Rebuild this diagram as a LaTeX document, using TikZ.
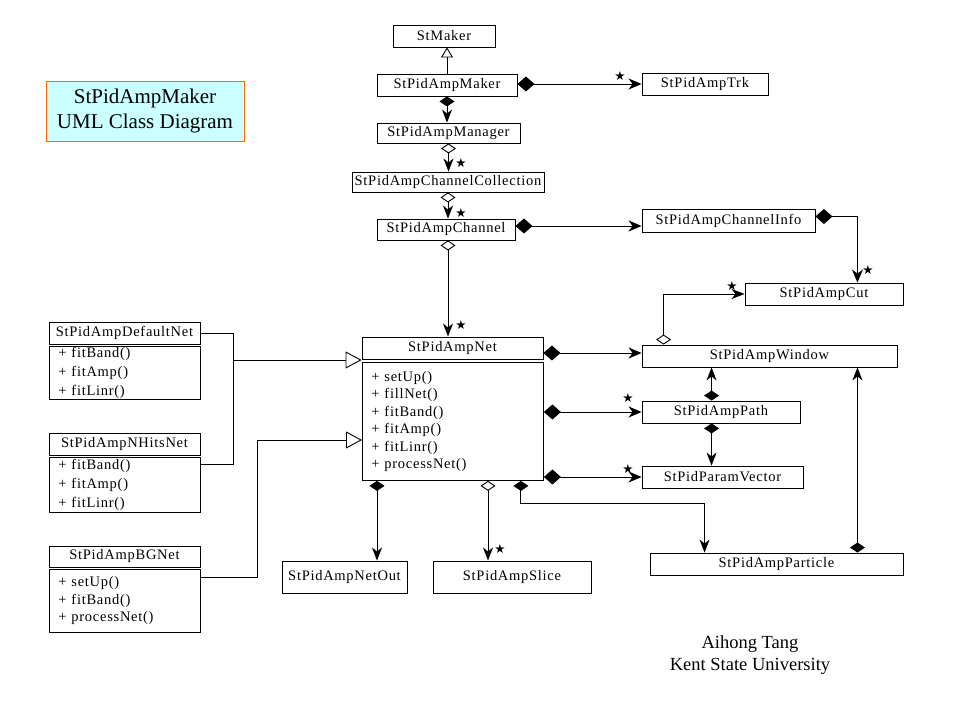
\documentclass[tikz,border=0pt]{standalone}
\usepackage{fontspec}
\setmainfont{Liberation Serif}
\newfontfamily\classfont[LetterSpace=5]{Liberation Serif}
\newfontfamily\starfont{DejaVu Sans}
\usetikzlibrary{arrows.meta,calc}

\definecolor{titlefill}{HTML}{CCFFFF}
\definecolor{titleedge}{HTML}{FF6600}

\tikzset{
  cls/.style={draw, line width=0.9pt, inner sep=0pt, fill=white,
    font=\classfont\fontsize{14.5}{17}\selectfont},
  ops/.style={cls, anchor=north west, align=left, inner xsep=9pt, inner ysep=0pt},
  mult/.style={inner sep=0pt, font=\starfont\fontsize{12.5}{12.5}\selectfont},
  conn/.style={line width=0.9pt},
  compH/.style={conn, arrows={Diamond[length=17pt,width=15pt]-Stealth[length=13pt,width=11pt,inset=4pt]}},
  compV/.style={conn, arrows={Diamond[length=10pt,width=15pt]-Stealth[length=13pt,width=10pt,inset=4pt]}},
  aggV/.style={conn, arrows={Diamond[length=10pt,width=15pt,fill=white]-Stealth[length=13pt,width=10pt,inset=4pt]}},
  gensmall/.style={conn, arrows={-Triangle[length=10pt,width=12pt,fill=white]}},
  genbig/.style={conn, arrows={-Triangle[length=16pt,width=17pt,fill=white]}},
}

\begin{document}
\begin{tikzpicture}[x=1pt,y=-1pt]
\fill[white] (0,0) rectangle (959,719);
\useasboundingbox (0,0) rectangle (959,719);

% title
\node[draw=titleedge, fill=titlefill, line width=0.9pt, minimum width=198pt,
  minimum height=60pt, align=center, font=\fontsize{21}{25}\selectfont]
  (title) at (145,111) {StPidAmpMaker\\UML Class Diagram};

% central column
\node[cls, minimum width=102pt, minimum height=22pt] (stmaker) at (444,36) {StMaker};
\node[cls, minimum width=140pt, minimum height=22pt] (maker) at (447,85) {StPidAmpMaker};
\node[cls, minimum width=143pt, minimum height=20pt] (manager) at (448.5,133) {StPidAmpManager};
\node[cls, minimum width=192pt, minimum height=20pt] (coll) at (448,182) {StPidAmpChannelCollection};
\node[cls, minimum width=138pt, minimum height=21pt] (channel) at (446,229.5) {StPidAmpChannel};

% right column
\node[cls, minimum width=126pt, minimum height=22pt] (trk) at (705,84) {StPidAmpTrk};
\node[cls, minimum width=173pt, minimum height=23pt] (info) at (728.5,220.5) {StPidAmpChannelInfo};
\node[cls, minimum width=158pt, minimum height=22pt] (cut) at (824,294) {StPidAmpCut};
\node[cls, minimum width=255pt, minimum height=22pt] (window) at (769.5,356) {StPidAmpWindow};
\node[cls, minimum width=158pt, minimum height=22pt] (path) at (721,412) {StPidAmpPath};
\node[cls, minimum width=161pt, minimum height=22pt] (pv) at (722.5,477) {StPidParamVector};
\node[cls, minimum width=253pt, minimum height=22pt] (particle) at (776.5,564) {StPidAmpParticle};

% bottom row
\node[cls, minimum width=125pt, minimum height=32pt] (netout) at (344.5,577) {StPidAmpNetOut};
\node[cls, minimum width=158pt, minimum height=32pt] (slice) at (512,577) {StPidAmpSlice};

% StPidAmpNet
\node[cls, minimum width=181pt, minimum height=22pt] (net) at (452.5,348) {StPidAmpNet};
\node[ops, text width=163pt, minimum height=118pt, font=\classfont\fontsize{14.5}{17.4}\selectfont]
  (netops) at (362,362) {+ setUp()\\+ fillNet()\\+ fitBand()\\+ fitAmp()\\+ fitLinr()\\+ processNet()};

% derived nets
\node[cls, minimum width=151pt, minimum height=22pt] (defnet) at (124.5,333) {StPidAmpDefaultNet};
\node[ops, text width=133pt, minimum height=53pt, font=\classfont\fontsize{14.5}{19}\selectfont]
  (defops) at (49,346) {+ fitBand()\\+ fitAmp()\\+ fitLinr()};
\node[cls, minimum width=151pt, minimum height=22pt] (nhits) at (124.5,444) {StPidAmpNHitsNet};
\node[ops, text width=133pt, minimum height=55pt, font=\classfont\fontsize{14.5}{19}\selectfont]
  (nhitsops) at (49,457) {+ fitBand()\\+ fitAmp()\\+ fitLinr()};
\node[cls, minimum width=151pt, minimum height=21pt] (bg) at (124.5,556.5) {StPidAmpBGNet};
\node[ops, text width=133pt, minimum height=63pt, font=\classfont\fontsize{14.5}{17.5}\selectfont]
  (bgops) at (49,569) {+ setUp()\\+ fitBand()\\+ processNet()};

% inheritance
\draw[gensmall] (maker.north) -- (maker.north |- stmaker.south);
\coordinate (gj) at (233,360);
\draw[genbig] (defnet.east) -| (gj) -- (gj -| net.west);
\draw[conn] (gj) |- ([yshift=-7pt]nhitsops.north east);
\coordinate (gk) at (257,440);
\draw[genbig] ([yshift=-8pt]bgops.north east) -| (gk) -- (gk -| netops.west);

% associations of the central column
\draw[compV] (maker.south) -- (maker.south |- manager.north);
\coordinate (mk) at ([yshift=1pt]maker.east);
\draw[compH] (mk) -- (mk -| trk.west);
\draw[aggV] (manager.south) -- (manager.south |- coll.north);
\draw[aggV] (coll.south) -- (coll.south |- channel.north);
\coordinate (ch) at ([xshift=2pt]channel.south);
\draw[aggV] (ch) -- (ch |- net.north);
\coordinate (cr) at ([yshift=3.5pt]channel.east);
\draw[compH] (cr) -- (cr -| info.west);
\coordinate (ie) at ([yshift=4pt]info.east);
\coordinate (ct) at ([xshift=-46pt]cut.north east);
\draw[compH] (ie) -| (ct);

% window, path, parameter vector, particle
\coordinate (wt) at ([xshift=22pt]window.north west);
\draw[aggV] (wt) |- (cut.west);
\coordinate (nw) at ([yshift=3pt]window.west -| net.east);
\draw[compH] (nw) -- (nw -| window.west);
\draw[compH] (path.west -| netops.east) -- (path.west);
\draw[compH] (pv.west -| netops.east) -- (pv.west);
\coordinate (pt) at ([xshift=70pt]path.north west);
\draw[compV] (pt) -- (pt |- window.south);
\coordinate (pb) at ([xshift=70pt]path.south west);
\draw[compV] (pb) -- (pb |- pv.north);
\coordinate (pa) at ([xshift=-46pt]particle.north east);
\draw[compV] (pa) -- (pa |- window.south);
\coordinate (nb) at ([xshift=-23pt]netops.south east);
\coordinate (pl) at ([xshift=55pt]particle.north west);
\draw[compV] (nb) -- ++(0,23) -| (pl);

% StPidAmpNet parts below
\coordinate (no) at ([xshift=15pt]netops.south west);
\draw[compV] (no) -- (no |- netout.north);
\coordinate (ns) at ([xshift=126pt]netops.south west);
\draw[aggV] (ns) -- (ns |- slice.north);

% multiplicities
\node[mult] (m1) at (620,76) {★};
\node[mult] (m2) at (461,163) {★};
\node[mult] (m3) at (461,213) {★};
\node[mult] (m4) at (461,325) {★};
\node[mult] (m5) at (868,270) {★};
\node[mult] (m6) at (732,286) {★};
\node[mult] (m7) at (628,398) {★};
\node[mult] (m8) at (628,469) {★};
\node[mult] (m9) at (500,549) {★};

% author
\node[align=center, font=\fontsize{18.5}{22.5}\selectfont] (author) at (750,655)
  {Aihong Tang\\Kent State University};
\end{tikzpicture}
\end{document}
